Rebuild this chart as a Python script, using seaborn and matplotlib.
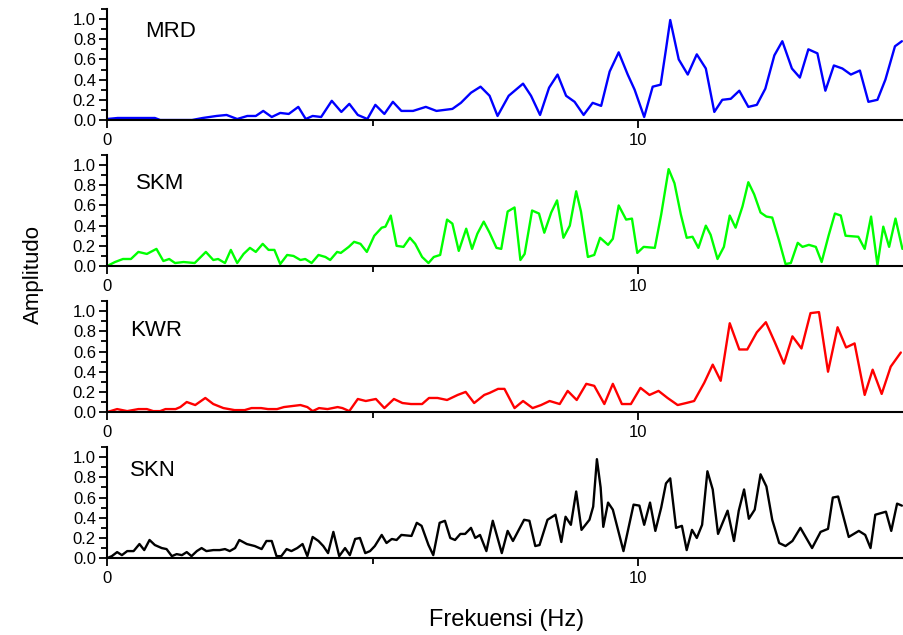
import matplotlib
matplotlib.use("Agg")
import matplotlib.pyplot as plt
import seaborn as sns
from matplotlib.ticker import MultipleLocator

# spectra (frequency in Hz, normalised amplitude)
mrd_freq = [0.0, 0.2, 0.5, 0.9, 1.0, 1.6, 1.8, 2.06, 2.25, 2.45, 2.64, 2.8, 2.94, 3.1, 3.26,
            3.42, 3.6, 3.74, 3.87, 4.03, 4.23, 4.41, 4.56, 4.72, 4.9, 5.05, 5.22, 5.38, 5.54,
            5.76, 6.0, 6.2, 6.5, 6.66, 6.85, 7.03, 7.2, 7.35, 7.56, 7.83, 7.98, 8.15, 8.32,
            8.48, 8.64, 8.8, 8.97, 9.14, 9.3, 9.46, 9.63, 9.8, 9.93, 10.11, 10.27, 10.42,
            10.52, 10.6, 10.76, 10.93, 11.1, 11.27, 11.43, 11.58, 11.74, 11.9, 12.07, 12.23,
            12.39, 12.56, 12.71, 12.89, 13.04, 13.2, 13.37, 13.52, 13.68, 13.84, 14.0, 14.17,
            14.33, 14.5, 14.65, 14.83, 14.96]
mrd_amp = [0.01, 0.02, 0.02, 0.02, 0.0, 0.0, 0.02, 0.04, 0.05, 0.01, 0.04, 0.04, 0.09, 0.03, 0.07,
           0.06, 0.13, 0.01, 0.04, 0.03, 0.19, 0.08, 0.16, 0.05, 0.01, 0.15, 0.06, 0.18, 0.09,
           0.09, 0.13, 0.09, 0.11, 0.17, 0.27, 0.33, 0.24, 0.04, 0.24, 0.36, 0.24, 0.05, 0.32,
           0.45, 0.24, 0.18, 0.05, 0.17, 0.14, 0.48, 0.67, 0.45, 0.30, 0.03, 0.33, 0.35,
           0.70, 0.99, 0.60, 0.45, 0.65, 0.51, 0.08, 0.20, 0.21, 0.29, 0.13, 0.15,
           0.31, 0.64, 0.78, 0.51, 0.42, 0.70, 0.66, 0.29, 0.54, 0.51, 0.45, 0.49,
           0.18, 0.20, 0.40, 0.73, 0.78]

skm_freq = [0.0, 0.15, 0.3, 0.45, 0.59, 0.75, 0.93, 1.06, 1.17, 1.28, 1.44, 1.65, 1.86, 2.0,
            2.09, 2.22, 2.33, 2.45, 2.57, 2.69, 2.8, 2.93, 3.04, 3.15, 3.26, 3.39, 3.51, 3.64,
            3.73, 3.85, 3.98, 4.11, 4.2, 4.33, 4.4, 4.55, 4.65, 4.77, 4.89, 5.03, 5.17, 5.24,
            5.34, 5.45, 5.58, 5.7, 5.8, 5.93, 6.05, 6.15, 6.27, 6.4, 6.5, 6.62, 6.76, 6.87,
            6.97, 7.09, 7.2, 7.33, 7.42, 7.54, 7.67, 7.78, 7.86, 8.0, 8.13, 8.23, 8.36, 8.47,
            8.59, 8.71, 8.83, 8.92, 9.05, 9.17, 9.28, 9.43, 9.52, 9.63, 9.77, 9.88, 9.98,
            10.1, 10.31, 10.43, 10.57, 10.68, 10.8, 10.91, 11.02, 11.13, 11.27, 11.36, 11.49,
            11.61, 11.72, 11.83, 11.96, 12.07, 12.18, 12.3, 12.41, 12.52, 12.65, 12.77, 12.87,
            13.0, 13.09, 13.21, 13.34, 13.45, 13.58, 13.7, 13.81, 13.9, 14.14, 14.26, 14.38,
            14.5, 14.61, 14.72, 14.84, 14.97]
skm_amp = [0.0, 0.04, 0.07, 0.07, 0.14, 0.12, 0.17, 0.05, 0.07, 0.03, 0.04, 0.03, 0.14, 0.06,
           0.07, 0.03, 0.16, 0.03, 0.12, 0.18, 0.14, 0.22, 0.16, 0.16, 0.02, 0.11, 0.10, 0.06,
           0.07, 0.03, 0.11, 0.09, 0.06, 0.14, 0.13, 0.19, 0.24, 0.22, 0.14, 0.30, 0.38, 0.39,
           0.50, 0.20, 0.19, 0.28, 0.22, 0.09, 0.03, 0.09, 0.11, 0.46, 0.42, 0.15, 0.37, 0.17,
           0.32, 0.44, 0.33, 0.18, 0.17, 0.54, 0.58, 0.06, 0.12, 0.55, 0.52, 0.33, 0.53, 0.65,
           0.28, 0.40, 0.74, 0.54, 0.09, 0.11, 0.28, 0.21, 0.27, 0.60, 0.46, 0.47, 0.13,
           0.19, 0.18, 0.51, 0.96, 0.82, 0.51, 0.28, 0.29, 0.18, 0.40, 0.31, 0.07,
           0.19, 0.50, 0.38, 0.59, 0.83, 0.71, 0.53, 0.49, 0.48, 0.25, 0.02, 0.03,
           0.23, 0.19, 0.21, 0.19, 0.04, 0.30, 0.52, 0.50, 0.30, 0.29, 0.17, 0.49,
           0.01, 0.39, 0.19, 0.47, 0.17]

kwr_freq = [0.0, 0.19, 0.38, 0.59, 0.75, 0.87, 1.0, 1.1, 1.29, 1.38, 1.5, 1.66, 1.85, 2.0, 2.19,
            2.4, 2.59, 2.72, 2.9, 3.03, 3.2, 3.33, 3.64, 3.77, 3.87, 3.99, 4.15, 4.34, 4.43,
            4.56, 4.72, 4.87, 5.06, 5.22, 5.4, 5.56, 5.72, 5.93, 6.06, 6.22, 6.4, 6.6, 6.75,
            6.91, 7.1, 7.2, 7.36, 7.48, 7.67, 7.83, 8.01, 8.17, 8.33, 8.52, 8.67, 8.84, 9.02,
            9.17, 9.36, 9.52, 9.69, 9.86, 10.04, 10.21, 10.38, 10.55, 10.74, 10.9, 11.05,
            11.24, 11.4, 11.55, 11.72, 11.9, 12.05, 12.23, 12.4, 12.57, 12.74, 12.9, 13.07,
            13.24, 13.4, 13.57, 13.75, 13.91, 14.07, 14.26, 14.41, 14.58, 14.75, 14.94]
kwr_amp = [0.0, 0.03, 0.01, 0.03, 0.03, 0.01, 0.01, 0.03, 0.03, 0.05, 0.10, 0.07, 0.14, 0.08, 0.04,
           0.02, 0.02, 0.04, 0.04, 0.03, 0.03, 0.05, 0.07, 0.05, 0.01, 0.04, 0.03, 0.05, 0.04,
           0.01, 0.13, 0.11, 0.13, 0.04, 0.13, 0.09, 0.08, 0.08, 0.14, 0.14, 0.12, 0.17, 0.20,
           0.09, 0.17, 0.19, 0.23, 0.23, 0.04, 0.11, 0.04, 0.07, 0.11, 0.08, 0.21, 0.12, 0.28,
           0.26, 0.08, 0.28, 0.08, 0.08, 0.24, 0.17, 0.21, 0.14, 0.07, 0.09, 0.11,
           0.29, 0.47, 0.31, 0.88, 0.62, 0.62, 0.79, 0.89, 0.69, 0.48, 0.75, 0.63,
           0.98, 0.99, 0.40, 0.84, 0.64, 0.68, 0.17, 0.42, 0.18, 0.45, 0.59]

skn_freq = [0.0, 0.09, 0.19, 0.28, 0.38, 0.5, 0.61, 0.7, 0.8, 0.9, 1.03, 1.12, 1.22, 1.31, 1.41,
            1.5, 1.59, 1.69, 1.78, 1.87, 2.0, 2.12, 2.22, 2.31, 2.41, 2.49, 2.63, 2.78, 2.91,
            3.0, 3.1, 3.19, 3.28, 3.38, 3.47, 3.58, 3.68, 3.77, 3.87, 3.98, 4.07, 4.16, 4.26,
            4.37, 4.48, 4.57, 4.67, 4.76, 4.86, 4.95, 5.04, 5.17, 5.26, 5.36, 5.45, 5.54, 5.73,
            5.83, 5.92, 6.05, 6.14, 6.26, 6.36, 6.46, 6.55, 6.65, 6.74, 6.85, 6.93, 7.02, 7.14,
            7.26, 7.43, 7.54, 7.64, 7.85, 7.95, 8.06, 8.14, 8.29, 8.44, 8.55, 8.63, 8.73, 8.83,
            8.93, 9.08, 9.15, 9.22, 9.29, 9.34, 9.43, 9.52, 9.72, 9.91, 10.02, 10.11, 10.22,
            10.32, 10.43, 10.52, 10.6, 10.71, 10.82, 10.91, 11.01, 11.1, 11.2, 11.3, 11.4,
            11.5, 11.68, 11.8, 11.89, 11.99, 12.08, 12.19, 12.3, 12.41, 12.52, 12.65, 12.77,
            12.9, 13.05, 13.27, 13.43, 13.57, 13.66, 13.76, 13.96, 14.15, 14.27, 14.37, 14.46,
            14.66, 14.76, 14.87, 14.96]
skn_amp = [0.0, 0.02, 0.06, 0.03, 0.07, 0.07, 0.14, 0.08, 0.18, 0.13, 0.10, 0.09, 0.02, 0.04, 0.03,
           0.06, 0.02, 0.07, 0.10, 0.07, 0.08, 0.08, 0.09, 0.07, 0.10, 0.18, 0.14, 0.12, 0.09,
           0.17, 0.17, 0.02, 0.02, 0.09, 0.07, 0.10, 0.14, 0.02, 0.21, 0.17, 0.12, 0.05, 0.26,
           0.02, 0.10, 0.03, 0.19, 0.20, 0.05, 0.07, 0.12, 0.23, 0.15, 0.19, 0.18, 0.23, 0.22,
           0.35, 0.32, 0.13, 0.03, 0.35, 0.37, 0.20, 0.18, 0.24, 0.24, 0.30, 0.20, 0.23, 0.07,
           0.37, 0.05, 0.27, 0.17, 0.38, 0.37, 0.12, 0.13, 0.38, 0.43, 0.16, 0.41, 0.33, 0.66,
           0.28, 0.38, 0.51, 0.98, 0.70, 0.31, 0.55, 0.48, 0.07, 0.53, 0.52, 0.33, 0.55,
           0.27, 0.50, 0.74, 0.79, 0.30, 0.32, 0.08, 0.28, 0.20, 0.33, 0.86, 0.68,
           0.24, 0.47, 0.17, 0.47, 0.68, 0.39, 0.48, 0.83, 0.71, 0.38, 0.15, 0.12,
           0.17, 0.30, 0.10, 0.26, 0.29, 0.60, 0.61, 0.21, 0.27, 0.23, 0.10, 0.43,
           0.46, 0.27, 0.54, 0.52]

stations = ["MRD", "SKM", "KWR", "SKN"]
colors = ["#0000ff", "#00ff00", "#ff0000", "#000000"]
label_pos = [(0.71, 0.88), (0.55, 0.82), (0.43, 0.81), (0.43, 0.87)]

sns.set_style("ticks")
plt.rcParams["font.family"] = ["Liberation Sans", "DejaVu Sans"]
plt.rcParams.update({"text.color": "black", "axes.labelcolor": "black",
                     "xtick.color": "black", "ytick.color": "black"})

fig = plt.figure(figsize=(9.04, 6.35), dpi=100)

series = [(mrd_freq, mrd_amp), (skm_freq, skm_amp), (kwr_freq, kwr_amp), (skn_freq, skn_amp)]
bottoms = [0.811, 0.581, 0.351, 0.121]

for i, (freq, amp) in enumerate(series):
    ax = fig.add_axes([0.1184, bottoms[i], 0.8816, 0.175])
    sns.lineplot(x=freq, y=amp, ax=ax, color=colors[i], linewidth=1.7)
    ax.set_xlim(0, 15)
    ax.set_ylim(0, 1.1)
    ax.set_xticks([0, 10])
    ax.xaxis.set_minor_locator(MultipleLocator(5))
    ax.set_yticks([0.0, 0.2, 0.4, 0.6, 0.8, 1.0])
    ax.set_yticklabels(["0.0", "0.2", "0.4", "0.6", "0.8", "1.0"])
    ax.yaxis.set_minor_locator(MultipleLocator(0.1))
    ax.tick_params(axis="both", which="major", direction="out", length=6, width=1.3,
                   labelsize=12, pad=2, colors="black")
    ax.tick_params(axis="both", which="minor", direction="out", length=4, width=1.3,
                   colors="black")
    ax.tick_params(axis="x", which="major", pad=3)
    for side in ["top", "right"]:
        ax.spines[side].set_visible(False)
    for side in ["left", "bottom"]:
        ax.spines[side].set_linewidth(1.5)
        ax.spines[side].set_color("black")
    ax.set_xlabel("")
    ax.set_ylabel("")
    ax.patch.set_alpha(0)
    lx, ly = label_pos[i]
    ax.text(lx, ly, stations[i], fontsize=16, va="center", ha="left", color="black")

fig.text(0.037, 0.567, "Amplitudo", rotation=90, fontsize=16, ha="center", va="center")
fig.text(0.56, 0.024, "Frekuensi (Hz)", fontsize=17, ha="center", va="center")

plt.savefig("out.png", dpi=100)
